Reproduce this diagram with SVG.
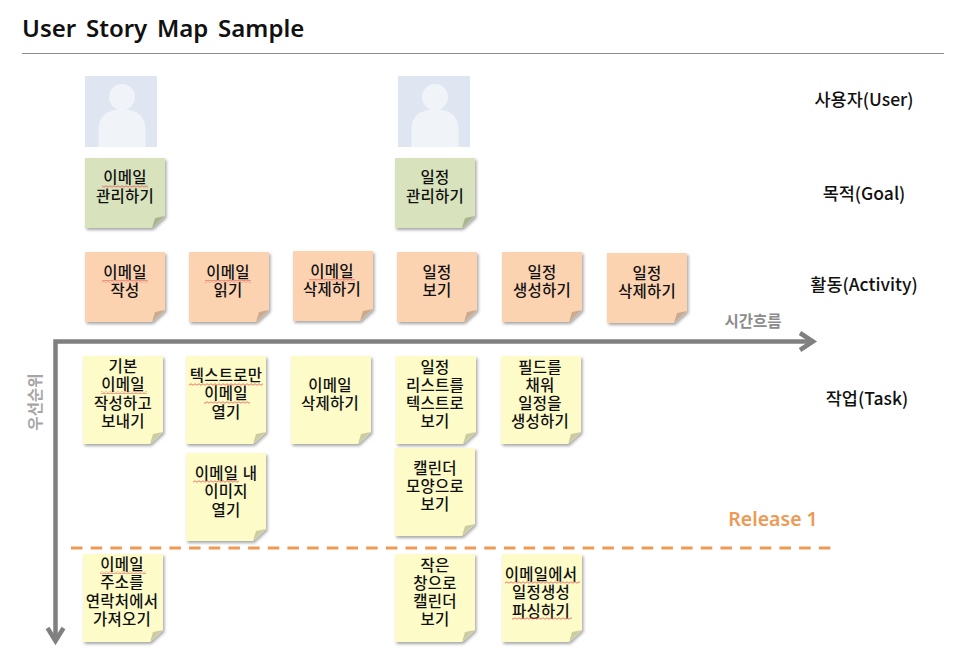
<svg xmlns="http://www.w3.org/2000/svg" width="968" height="658" viewBox="0 0 968 658">
<style>
text{font-family:"Noto Sans CJK KR","Noto Sans",sans-serif;fill:#111;text-anchor:middle;dominant-baseline:central}
.n{font-family:"Liberation Sans","Noto Sans CJK KR",sans-serif;font-size:15.5px;letter-spacing:.2px;font-weight:500}
.l{font-size:17.500px;font-weight:500}
.t{font-family:"Noto Sans","Noto Sans CJK KR",sans-serif;font-size:24px;font-weight:600;text-anchor:start;word-spacing:3.500px}
.g{fill:#d8e3bd}.o{fill:#fcd3b1}.y{fill:#fdfcc9}
.body{filter:url(#sh)}
.fg{fill:#a9b58f}.fo{fill:#c9ab8f}.fy{fill:#cdcca0}
.ph{fill:#dfe6f1}.pl{fill:#f0f4f9}
.ax{fill:none;stroke:#808080;stroke-width:4.5;stroke-linejoin:miter}
.ah{fill:none;stroke:#808080;stroke-width:4.5}
.sq{fill:url(#wave)}
</style>
<defs>
<filter id="sh" x="-10%" y="-10%" width="125%" height="125%"><feDropShadow dx="1.5" dy="2" stdDeviation="1.5" flood-color="#000" flood-opacity=".35"/></filter>
<pattern id="wave" width="4" height="3" patternUnits="userSpaceOnUse"><path d="M0 1.5Q1 0 2 1.5T4 1.5" fill="none" stroke="#e8504a" stroke-width=".8"/></pattern>
<path id="f80" d="M0 0H80V58L67 70H0Z"/>
<path id="c80" d="M67 70L70 60L80 58Z"/>
<path id="f88" d="M0 0H80V76L67 88H0Z"/>
<path id="c88" d="M67 88L70 78L80 76Z"/>
</defs>
<rect width="968" height="658" fill="#fff"/>
<text class="t" x="22" y="27">User Story Map Sample</text>
<path d="M22 53.500H944" stroke="#8c8c8c" stroke-width="1"/>

<g id="user1"><rect class="ph" x="85" y="76" width="72" height="71"/><circle class="pl" cx="122" cy="97" r="13"/><path class="pl" d="M98.500 147V129Q99 110 122 109Q145 110 145.500 129V147Z"/></g>
<g id="user2"><rect class="ph" x="398" y="76" width="72" height="71"/><circle class="pl" cx="435" cy="97" r="13"/><path class="pl" d="M411.500 147V129Q412 110 435 109Q458 110 458.500 129V147Z"/></g>

<g id="goal1" transform="translate(85 158)"><use href="#f80" class="g body"/><use href="#c80" class="fg"/><text class="n"><tspan x="40" y="19">이메일</tspan><tspan x="40" y="38">관리하기</tspan></text><rect class="sq" x="17" y="27" width="46" height="3"/></g>
<g id="goal2" transform="translate(395 158)"><use href="#f80" class="g body"/><use href="#c80" class="fg"/><text class="n"><tspan x="40" y="19">일정</tspan><tspan x="40" y="38">관리하기</tspan></text></g>

<g id="act1" transform="translate(85 252)"><use href="#f80" class="o body"/><use href="#c80" class="fo"/><text class="n"><tspan x="40" y="20">이메일</tspan><tspan x="40" y="38">작성</tspan></text><rect class="sq" x="17" y="28" width="46" height="3"/></g>
<g id="act2" transform="translate(189 252)"><use href="#f80" class="o body"/><use href="#c80" class="fo"/><text class="n"><tspan x="39" y="20">이메일</tspan><tspan x="39" y="38">읽기</tspan></text><rect class="sq" x="16" y="28" width="46" height="3"/></g>
<g id="act3" transform="translate(293 251)"><use href="#f80" class="o body"/><use href="#c80" class="fo"/><text class="n"><tspan x="39" y="20">이메일</tspan><tspan x="39" y="38">삭제하기</tspan></text><rect class="sq" x="16" y="28" width="46" height="3"/></g>
<g id="act4" transform="translate(397 252)"><use href="#f80" class="o body"/><use href="#c80" class="fo"/><text class="n"><tspan x="40" y="20">일정</tspan><tspan x="40" y="38">보기</tspan></text></g>
<g id="act5" transform="translate(502 252)"><use href="#f80" class="o body"/><use href="#c80" class="fo"/><text class="n"><tspan x="40" y="20">일정</tspan><tspan x="40" y="38">생성하기</tspan></text></g>
<g id="act6" transform="translate(607 253)"><use href="#f80" class="o body"/><use href="#c80" class="fo"/><text class="n"><tspan x="40" y="20">일정</tspan><tspan x="40" y="38">삭제하기</tspan></text></g>

<g id="task1" transform="translate(83 356)"><use href="#f88" class="y body"/><use href="#c88" class="fy"/><text class="n"><tspan x="40" y="10">기본</tspan><tspan x="40" y="28">이메일</tspan><tspan x="40" y="46.500">작성하고</tspan><tspan x="40" y="64.500">보내기</tspan></text><rect class="sq" x="18" y="35" width="46" height="3"/></g>
<g id="task2" transform="translate(186 356)"><use href="#f88" class="y body"/><use href="#c88" class="fy"/><text class="n"><tspan x="40" y="19">텍스트로만</tspan><tspan x="40" y="37">이메일</tspan><tspan x="40" y="56">열기</tspan></text><rect class="sq" x="3" y="27" width="74" height="3"/><rect class="sq" x="18" y="45" width="46" height="3"/></g>
<g id="task3" transform="translate(291 356)"><use href="#f88" class="y body"/><use href="#c88" class="fy"/><text class="n"><tspan x="39" y="29">이메일</tspan><tspan x="39" y="47">삭제하기</tspan></text></g>
<g id="task4" transform="translate(396 356)"><use href="#f88" class="y body"/><use href="#c88" class="fy"/><text class="n"><tspan x="39" y="10.500">일정</tspan><tspan x="39" y="28.500">리스트를</tspan><tspan x="39" y="46.500">텍스트로</tspan><tspan x="39" y="64.500">보기</tspan></text></g>
<g id="task5" transform="translate(501 356)"><use href="#f88" class="y body"/><use href="#c88" class="fy"/><text class="n"><tspan x="39" y="11">필드를</tspan><tspan x="39" y="29">채워</tspan><tspan x="39" y="47">일정을</tspan><tspan x="39" y="65">생성하기</tspan></text></g>
<g id="task6" transform="translate(186 453)"><use href="#f88" class="y body"/><use href="#c88" class="fy"/><text class="n"><tspan x="40" y="20">이메일 내</tspan><tspan x="40" y="38">이미지</tspan><tspan x="40" y="57">열기</tspan></text><rect class="sq" x="7" y="27" width="46" height="3"/></g>
<g id="task7" transform="translate(395 448)"><use href="#f88" class="y body"/><use href="#c88" class="fy"/><text class="n"><tspan x="40" y="19.500">캘린더</tspan><tspan x="40" y="37.500">모양으로</tspan><tspan x="40" y="56">보기</tspan></text></g>
<g id="task8" transform="translate(83 554)"><use href="#f88" class="y body"/><use href="#c88" class="fy"/><text class="n"><tspan x="39" y="10">이메일</tspan><tspan x="39" y="28">주소를</tspan><tspan x="39" y="46.500">연락처에서</tspan><tspan x="39" y="64.500">가져오기</tspan></text><rect class="sq" x="17" y="17" width="46" height="3"/></g>
<g id="task9" transform="translate(395 554)"><use href="#f88" class="y body"/><use href="#c88" class="fy"/><text class="n"><tspan x="40" y="10.500">작은</tspan><tspan x="40" y="28.500">창으로</tspan><tspan x="40" y="46.500">캘린더</tspan><tspan x="40" y="64.500">보기</tspan></text></g>
<g id="task10" transform="translate(502 554)"><use href="#f88" class="y body"/><use href="#c88" class="fy"/><text class="n"><tspan x="39" y="20">이메일에서</tspan><tspan x="39" y="38">일정생성</tspan><tspan x="39" y="56.500">파싱하기</tspan></text><rect class="sq" x="3" y="27" width="75" height="3"/><rect class="sq" x="10" y="63" width="60" height="3"/></g>

<g id="connectors">
<path class="ax" d="M812 341.500H55.500V641"/>
<path class="ah" d="M800 333L813 341.500L800 350"/>
<path class="ah" d="M47.500 628L55.500 641L63.500 628"/>
<path d="M71 548H832" fill="none" stroke="#ed9a55" stroke-width="2.800" stroke-dasharray="11.500 8.180"/>
</g>

<g id="labels">
<text class="l" x="864" y="98">사용자(User)</text>
<text class="l" x="864" y="192">목적(Goal)</text>
<text class="l" x="864" y="283">활동(Activity)</text>
<text class="l" x="867" y="397">작업(Task)</text>
<text x="753" y="320" style="font-size:15.5px;font-weight:600;fill:#8c8c8c">시간흐름</text>
<text x="0" y="0" transform="translate(34 402) rotate(-90)" style="font-size:15.5px;font-weight:600;fill:#a6a6a6">우선순위</text>
<text x="773" y="518" style="font-family:'Noto Sans',sans-serif;font-size:19.500px;font-weight:600;fill:#ed9a55">Release 1</text>
</g>
</svg>
